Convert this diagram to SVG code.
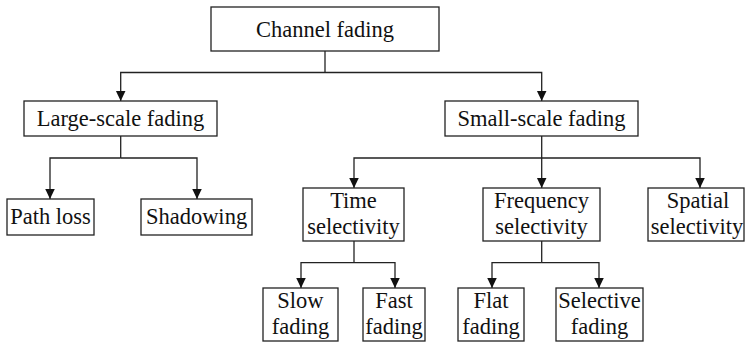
<svg xmlns="http://www.w3.org/2000/svg" width="745" height="342" viewBox="0 0 745 342">
<style>
rect{fill:#fff;stroke:#222;stroke-width:1.3}
text{font-family:'Liberation Serif','Times New Roman',Times,'DejaVu Serif',serif;font-size:22.5px;fill:#111;text-anchor:middle}
.c{fill:none;stroke:#222;stroke-width:1.3}
</style>
<defs>
<marker id="ah" markerUnits="userSpaceOnUse" markerWidth="12" markerHeight="12" refX="10.5" refY="5" orient="auto">
<path d="M0,0 L10.5,5 L0,10 Z" fill="#111"/>
</marker>
</defs>
<g id="connectors">
<path class="c" d="M325,51 V72.5"/>
<path class="c" d="M325,72.5 H541.7 V101" marker-end="url(#ah)"/>
<path class="c" d="M325,72.5 H120.7 V101" marker-end="url(#ah)"/>
<path class="c" d="M120.7,136 V158"/>
<path class="c" d="M120.7,158 H50 V199" marker-end="url(#ah)"/>
<path class="c" d="M120.7,158 H197 V199" marker-end="url(#ah)"/>
<path class="c" d="M541.7,136 V188" marker-end="url(#ah)"/>
<path class="c" d="M541.7,158 H354 V188" marker-end="url(#ah)"/>
<path class="c" d="M541.7,158 H700 V188" marker-end="url(#ah)"/>
<path class="c" d="M354,241 V262.7"/>
<path class="c" d="M354,262.7 H301 V288" marker-end="url(#ah)"/>
<path class="c" d="M354,262.7 H395 V288" marker-end="url(#ah)"/>
<path class="c" d="M541.7,241 V262.7"/>
<path class="c" d="M541.7,262.7 H492 V288" marker-end="url(#ah)"/>
<path class="c" d="M541.7,262.7 H599 V288" marker-end="url(#ah)"/>
</g>
<g id="channel-fading"><rect x="211" y="7" width="228" height="44"/><text x="325" y="36.5">Channel fading</text></g>
<g id="large-scale-fading"><rect x="24" y="101" width="193" height="35"/><text x="120.5" y="125.7">Large-scale fading</text></g>
<g id="small-scale-fading"><rect x="445" y="101" width="193" height="35"/><text x="541.5" y="125.7">Small-scale fading</text></g>
<g id="path-loss"><rect x="7" y="199" width="87" height="36"/><text x="50.5" y="224">Path loss</text></g>
<g id="shadowing"><rect x="141" y="199" width="111" height="36"/><text x="196.5" y="224">Shadowing</text></g>
<g id="time-selectivity"><rect x="303" y="188" width="101" height="53"/><text x="353.5" y="208.3">Time</text><text x="353.5" y="234.3">selectivity</text></g>
<g id="frequency-selectivity"><rect x="483" y="188" width="117" height="53"/><text x="541.5" y="208.3">Frequency</text><text x="541.5" y="234.3">selectivity</text></g>
<g id="spatial-selectivity"><rect x="648" y="188" width="96" height="53"/><text x="698" y="208.3">Spatial</text><text x="697" y="234.3">selectivity</text></g>
<g id="slow-fading"><rect x="263" y="288" width="75" height="53"/><text x="300.5" y="307.7">Slow</text><text x="300.5" y="334">fading</text></g>
<g id="fast-fading"><rect x="363" y="288" width="62" height="53"/><text x="394" y="307.7">Fast</text><text x="394" y="334">fading</text></g>
<g id="flat-fading"><rect x="458" y="288" width="66" height="53"/><text x="491" y="307.7">Flat</text><text x="491" y="334">fading</text></g>
<g id="selective-fading"><rect x="556" y="288" width="87" height="53"/><text x="599.5" y="307.7">Selective</text><text x="599.5" y="334">fading</text></g>
</svg>
